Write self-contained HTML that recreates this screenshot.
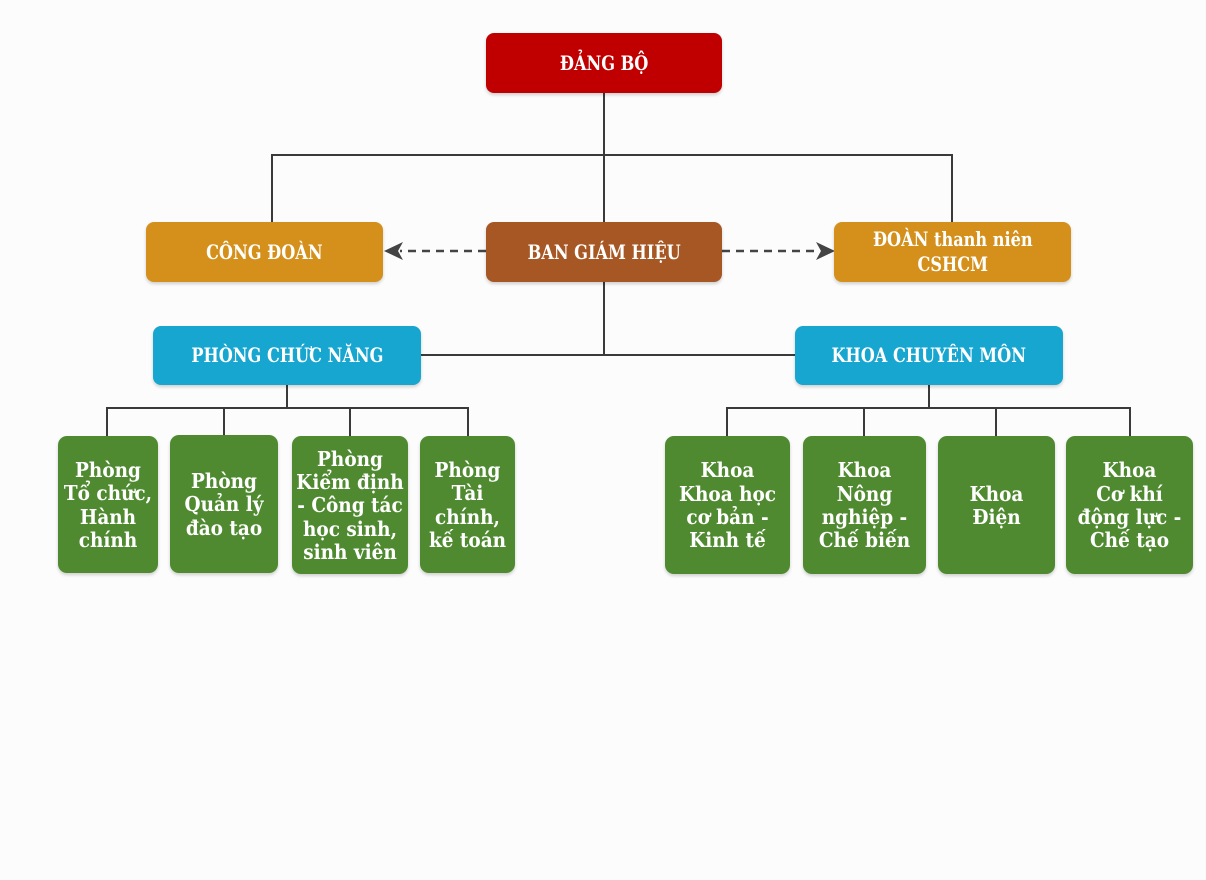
<!DOCTYPE html>
<html>
<head>
<meta charset="utf-8">
<style>
  html,body{margin:0;padding:0;}
  body{width:1206px;height:880px;background:#fcfcfc;position:relative;overflow:hidden;}
  .b{position:absolute;box-sizing:border-box;border-radius:8px;color:#fff;display:flex;align-items:center;justify-content:center;text-align:center;box-shadow:0 2px 3px rgba(0,0,0,0.18);white-space:nowrap;}
  .h{font-family:"DejaVu Serif Condensed","DejaVu Serif","Liberation Serif",serif;font-stretch:condensed;font-weight:bold;font-size:19.5px;line-height:25px;}
  .h span{display:inline-block;transform:scaleX(0.92);}
  .g{background:#4f8a30;font-family:"DejaVu Serif Condensed","DejaVu Serif","Liberation Serif",serif;font-stretch:condensed;font-weight:bold;font-size:20.5px;line-height:23.3px;border-radius:9px;padding-top:2px;}
  svg{position:absolute;left:0;top:0;}
</style>
</head>
<body>
<svg width="1206" height="880" viewBox="0 0 1206 880">
  <g stroke="#3a3a3a" stroke-width="2" fill="none">
    <line x1="604" y1="93" x2="604" y2="355"/>
    <line x1="271" y1="155" x2="953" y2="155"/>
    <line x1="272" y1="155" x2="272" y2="222"/>
    <line x1="952" y1="155" x2="952" y2="222"/>
    <line x1="421" y1="355" x2="795" y2="355"/>
    <line x1="287" y1="385" x2="287" y2="408"/>
    <line x1="106" y1="408" x2="469" y2="408"/>
    <line x1="107" y1="408" x2="107" y2="436"/>
    <line x1="224" y1="408" x2="224" y2="436"/>
    <line x1="350" y1="408" x2="350" y2="436"/>
    <line x1="468" y1="408" x2="468" y2="436"/>
    <line x1="929" y1="385" x2="929" y2="408"/>
    <line x1="726" y1="408" x2="1131" y2="408"/>
    <line x1="727" y1="408" x2="727" y2="436"/>
    <line x1="864" y1="408" x2="864" y2="436"/>
    <line x1="996" y1="408" x2="996" y2="436"/>
    <line x1="1130" y1="408" x2="1130" y2="436"/>
  </g>
  <g stroke="#444" stroke-width="2.5" stroke-dasharray="8 6" fill="none">
    <line x1="486" y1="251" x2="400" y2="251"/>
    <line x1="722" y1="251" x2="818" y2="251"/>
  </g>
  <polygon points="384,251 403,242 398,251 403,260" fill="#444"/>
  <polygon points="835,251 816,242 821,251 816,260" fill="#444"/>
</svg>

<div class="b h" style="left:486px;top:33px;width:236px;height:60px;background:#c00000;"><span>ĐẢNG BỘ</span></div>

<div class="b h" style="left:146px;top:222px;width:237px;height:60px;background:#d4901b;"><span>CÔNG ĐOÀN</span></div>
<div class="b h" style="left:486px;top:222px;width:236px;height:60px;background:#a65723;"><span>BAN GIÁM HIỆU</span></div>
<div class="b h" style="left:834px;top:222px;width:237px;height:60px;background:#d4901b;"><span>ĐOÀN thanh niên<br>CSHCM</span></div>

<div class="b h" style="left:153px;top:326px;width:268px;height:59px;background:#17a6d0;"><span>PHÒNG CHỨC NĂNG</span></div>
<div class="b h" style="left:795px;top:326px;width:268px;height:59px;background:#17a6d0;"><span>KHOA CHUYÊN MÔN</span></div>

<div class="b g" style="left:58px;top:436px;width:100px;height:137px;">Phòng<br>Tổ chức,<br>Hành<br>chính</div>
<div class="b g" style="left:170px;top:435px;width:108px;height:138px;">Phòng<br>Quản lý<br>đào tạo</div>
<div class="b g" style="left:292px;top:436px;width:116px;height:138px;">Phòng<br>Kiểm định<br>- Công tác<br>học sinh,<br>sinh viên</div>
<div class="b g" style="left:420px;top:436px;width:95px;height:137px;">Phòng<br>Tài<br>chính,<br>kế toán</div>

<div class="b g" style="left:665px;top:436px;width:125px;height:138px;">Khoa<br>Khoa học<br>cơ bản -<br>Kinh tế</div>
<div class="b g" style="left:803px;top:436px;width:123px;height:138px;">Khoa<br>Nông<br>nghiệp -<br>Chế biến</div>
<div class="b g" style="left:938px;top:436px;width:117px;height:138px;">Khoa<br>Điện</div>
<div class="b g" style="left:1066px;top:436px;width:127px;height:138px;">Khoa<br>Cơ khí<br>động lực -<br>Chế tạo</div>
</body>
</html>
